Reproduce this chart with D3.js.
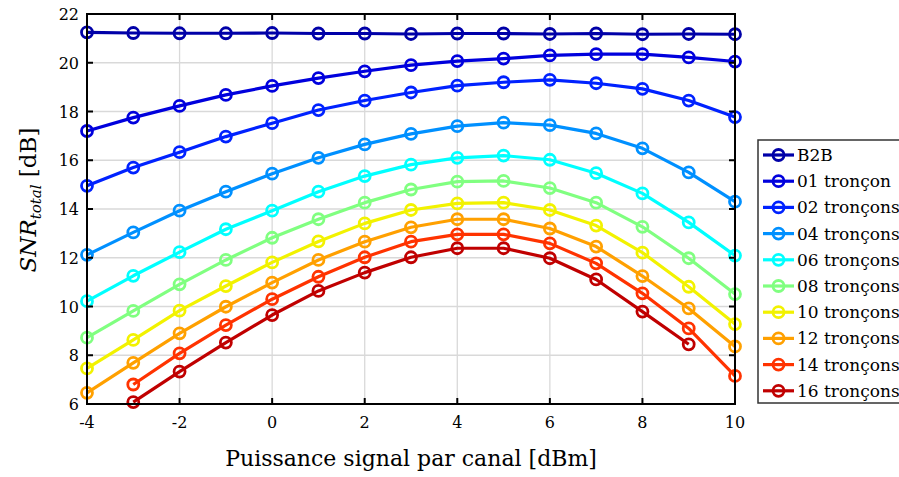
<!DOCTYPE html>
<html><head><meta charset="utf-8">
<script src="https://cdn.jsdelivr.net/npm/d3@7"></script>
<style>body{margin:0;background:#fff}svg{display:block}</style>
</head><body>
<svg id="c" width="899" height="477"></svg>
<script>
const xValues = [-4,-3,-2,-1,0,1,2,3,4,5,6,7,8,9,10];
const xTicks = [-4,-2,0,2,4,6,8,10];
const yTicks = [6,8,10,12,14,16,18,20,22];
const seriesNames = ["B2B","01 tronçon","02 tronçons","04 tronçons","06 tronçons","08 tronçons","10 tronçons","12 tronçons","14 tronçons","16 tronçons"];
const seriesColors = ["#0000a8","#0000dd","#0022ff","#0090ff","#00ffff","#80ff80","#f2f200","#ffa000","#ff3300","#c00000"];
const sB2B = [21.25,21.22,21.21,21.21,21.22,21.2,21.2,21.18,21.2,21.2,21.18,21.2,21.17,21.18,21.17];
const s01 = [17.2,17.75,18.23,18.68,19.05,19.37,19.65,19.9,20.07,20.17,20.3,20.35,20.35,20.22,20.05];
const s02 = [14.95,15.7,16.33,16.97,17.52,18.06,18.45,18.78,19.06,19.2,19.3,19.16,18.93,18.45,17.77];
const s04 = [12.12,13.04,13.93,14.71,15.45,16.1,16.65,17.08,17.4,17.54,17.44,17.1,16.49,15.5,14.3];
const s06 = [10.22,11.26,12.23,13.17,13.93,14.71,15.35,15.82,16.1,16.19,16.02,15.47,14.64,13.45,12.09];
const s08 = [8.72,9.82,10.91,11.91,12.82,13.58,14.26,14.8,15.12,15.15,14.86,14.26,13.27,11.98,10.51];
const s10 = [7.46,8.63,9.83,10.84,11.81,12.67,13.41,13.96,14.23,14.26,13.96,13.32,12.21,10.81,9.28];
const s12 = [6.46,7.69,8.9,9.99,10.98,11.91,12.66,13.25,13.58,13.58,13.2,12.46,11.25,9.92,8.36];
const s14 = [null,6.8,8.08,9.24,10.3,11.22,12.02,12.66,12.96,12.96,12.59,11.77,10.54,9.1,7.15];
const s16 = [null,6.08,7.33,8.52,9.65,10.64,11.39,12.02,12.39,12.39,11.98,11.11,9.79,8.45,null];
const allSeries = [sB2B,s01,s02,s04,s06,s08,s10,s12,s14,s16];

const svg = d3.select("#c");
const L=87,R=735,T=14,B=404;
const x = d3.scaleLinear().domain([-4,10]).range([L,R]);
const y = d3.scaleLinear().domain([6,22]).range([B,T]);
const font = "'DejaVu Serif',serif";

// grid
const g = svg.append("g");
g.selectAll(".gx").data(xTicks).enter().append("line")
  .attr("x1",d=>x(d)).attr("x2",d=>x(d)).attr("y1",T).attr("y2",B)
  .attr("stroke","#d9d9d9").attr("stroke-width",1.3);
g.selectAll(".gy").data(yTicks).enter().append("line")
  .attr("y1",d=>y(d)).attr("y2",d=>y(d)).attr("x1",L).attr("x2",R)
  .attr("stroke","#d9d9d9").attr("stroke-width",1.3);

// series
const line = d3.line().defined(d=>d[1]!=null).x(d=>x(d[0])).y(d=>y(d[1]));
allSeries.forEach((s,i)=>{
  const pts = xValues.map((xv,j)=>[xv,s[j]]);
  svg.append("path").datum(pts).attr("d",line).attr("fill","none")
    .attr("stroke",seriesColors[i]).attr("stroke-width",3.2).attr("stroke-linejoin","round");
  svg.append("g").selectAll("circle").data(pts.filter(p=>p[1]!=null)).enter().append("circle")
    .attr("cx",d=>x(d[0])).attr("cy",d=>y(d[1])).attr("r",5.5)
    .attr("fill","none").attr("stroke",seriesColors[i]).attr("stroke-width",2.8);
});

// axes box
svg.append("rect").attr("x",L).attr("y",T).attr("width",R-L).attr("height",B-T)
  .attr("fill","none").attr("stroke","#000").attr("stroke-width",2);
const tk=6;
xTicks.forEach(t=>{
  svg.append("line").attr("x1",x(t)).attr("x2",x(t)).attr("y1",B).attr("y2",B-tk).attr("stroke","#000").attr("stroke-width",2);
  svg.append("line").attr("x1",x(t)).attr("x2",x(t)).attr("y1",T).attr("y2",T+tk).attr("stroke","#000").attr("stroke-width",2);
});
yTicks.forEach(t=>{
  svg.append("line").attr("x1",L).attr("x2",L+tk).attr("y1",y(t)).attr("y2",y(t)).attr("stroke","#000").attr("stroke-width",2);
  svg.append("line").attr("x1",R).attr("x2",R-tk).attr("y1",y(t)).attr("y2",y(t)).attr("stroke","#000").attr("stroke-width",2);
});
// tick labels
svg.append("g").selectAll("text").data(xTicks).enter().append("text")
  .attr("x",d=>x(d)).attr("y",B+24).attr("text-anchor","middle")
  .attr("font-family",font).attr("font-size",16).text(d=>d);
svg.append("g").selectAll("text").data(yTicks).enter().append("text")
  .attr("x",L-8).attr("y",d=>y(d)+6).attr("text-anchor","end")
  .attr("font-family",font).attr("font-size",16).text(d=>d);

// axis labels
svg.append("text").attr("x",411).attr("y",466).attr("text-anchor","middle")
  .attr("font-family",font).attr("font-size",22).text("Puissance signal par canal [dBm]");
const yl = svg.append("text").attr("transform","translate(36,200) rotate(-90)")
  .attr("text-anchor","middle").attr("font-family",font).attr("font-size",23);
yl.append("tspan").attr("font-style","italic").text("SNR");
yl.append("tspan").attr("font-style","italic").attr("font-size",15).attr("dy",5).text("total");
yl.append("tspan").attr("dy",-5).text("\u00a0[dB]");

// legend
const lg = svg.append("g");
lg.append("rect").attr("x",758).attr("y",140).attr("width",150).attr("height",263)
  .attr("fill","#fff").attr("stroke","#333").attr("stroke-width",1.5);
seriesNames.forEach((n,i)=>{
  const yy = 155 + i*26.2;
  lg.append("line").attr("x1",763).attr("x2",794).attr("y1",yy).attr("y2",yy)
    .attr("stroke",seriesColors[i]).attr("stroke-width",3.2);
  lg.append("circle").attr("cx",778.5).attr("cy",yy).attr("r",5.5).attr("fill","none")
    .attr("stroke",seriesColors[i]).attr("stroke-width",2.8);
  lg.append("text").attr("x",797).attr("y",yy+6).attr("font-family",font).attr("font-size",17).text(n);
});
</script>
</body></html>
